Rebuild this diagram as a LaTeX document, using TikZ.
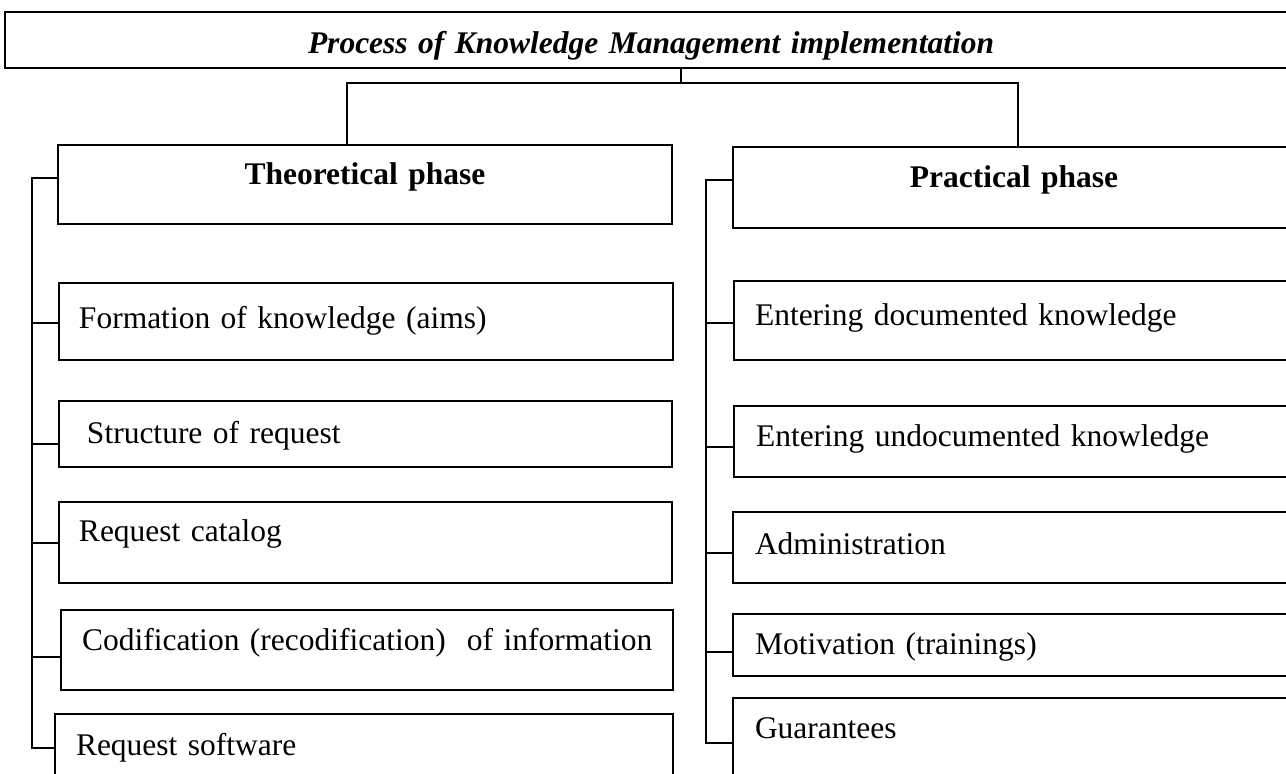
\documentclass[tikz,border=0pt]{standalone}
\usepackage{fontspec}
\setmainfont{Liberation Serif}
\begin{document}
\begin{tikzpicture}[x=1pt,y=-1pt,
  frame/.style={draw, line width=1.4pt, anchor=north west, inner sep=0pt,
                outer sep=0pt, font=\fontsize{31.5}{38}\selectfont, align=left},
  head/.style={frame, align=center, font=\fontsize{31.5}{38}\selectfont\bfseries},
  leaf/.style={frame, text height=40pt},
  link/.style={line width=1.2pt}]
\useasboundingbox (0,0) rectangle (1286,774);
\clip (0,0) rectangle (1286,774);

% title bar
\node[head, font=\fontsize{31.5}{38}\selectfont\bfseries\itshape,
      text width=1292pt, text height=41pt, text depth=15pt]
      (title) at (5,12) {Process of Knowledge Management implementation};

% the two phases
\node[head, text width=614pt, text height=39pt, text depth=40pt]
      (theo) at (58,145) {Theoretical phase};
\node[head, text width=562pt, text height=40pt, text depth=41pt]
      (prac) at (733,147) {Practical phase};

% theoretical steps
\node[leaf, text width=614pt, text height=45pt, text depth=32pt] (fo) at (59,283)
      {\hspace*{20pt}Formation of knowledge (aims)};
\node[leaf, text width=613pt, text height=42pt, text depth=24pt] (st) at (59,401)
      {\hspace*{28pt}Structure of request};
\node[leaf, text width=613pt, text height=39pt, text depth=42pt] (ca) at (59,502)
      {\hspace*{20pt}Request catalog};
\node[leaf, text width=612pt, text depth=40pt] (co) at (61,610)
      {\hspace*{21pt}Codification (recodification)\ \ of information};
\node[leaf, text width=618pt, text height=41pt, text depth=49pt] (sw) at (55,714)
      {\hspace*{21pt}Request software};

% practical steps
\node[leaf, text width=561pt, text height=44pt, text depth=35pt] (ed) at (734,281)
      {\hspace*{21pt}Entering documented knowledge};
\node[leaf, text width=561pt, text depth=31pt] (eu) at (734,406)
      {\hspace*{22pt}Entering undocumented knowledge};
\node[leaf, text width=562pt, text height=42pt, text depth=29pt] (ad) at (733,512)
      {\hspace*{22pt}Administration};
\node[leaf, text width=562pt, text depth=22pt] (mo) at (733,614)
      {\hspace*{22pt}Motivation (trainings)};
\node[leaf, text width=562pt, text depth=50pt] (gu) at (733,698)
      {\hspace*{22pt}Guarantees};

% title to phases
\coordinate (hub) at (681,83);
\coordinate (tl) at (347,83);
\coordinate (tr) at (1018,83);
\draw[link] (hub |- title.south) -- (hub);
\draw[link] (tl |- theo.north) -- (tl) -- (tr) -- (tr |- prac.north);

% left spine
\coordinate (ls0) at (32,178);
\coordinate (ls5) at (32,748);
\coordinate (ls1) at (32,323);
\coordinate (ls2) at (32,444);
\coordinate (ls3) at (32,543);
\coordinate (ls4) at (32,657);
\draw[link] (ls0 -| theo.west) -- (ls0) -- (ls5) -- (ls5 -| sw.west);
\draw[link] (ls1) -- (ls1 -| fo.west);
\draw[link] (ls2) -- (ls2 -| st.west);
\draw[link] (ls3) -- (ls3 -| ca.west);
\draw[link] (ls4) -- (ls4 -| co.west);

% right spine
\coordinate (rs0) at (706,180);
\coordinate (rs5) at (706,743);
\coordinate (rs1) at (706,323);
\coordinate (rs2) at (706,447);
\coordinate (rs3) at (706,553);
\coordinate (rs4) at (706,652);
\draw[link] (rs0 -| prac.west) -- (rs0) -- (rs5) -- (rs5 -| gu.west);
\draw[link] (rs1) -- (rs1 -| ed.west);
\draw[link] (rs2) -- (rs2 -| eu.west);
\draw[link] (rs3) -- (rs3 -| ad.west);
\draw[link] (rs4) -- (rs4 -| mo.west);
\end{tikzpicture}
\end{document}
